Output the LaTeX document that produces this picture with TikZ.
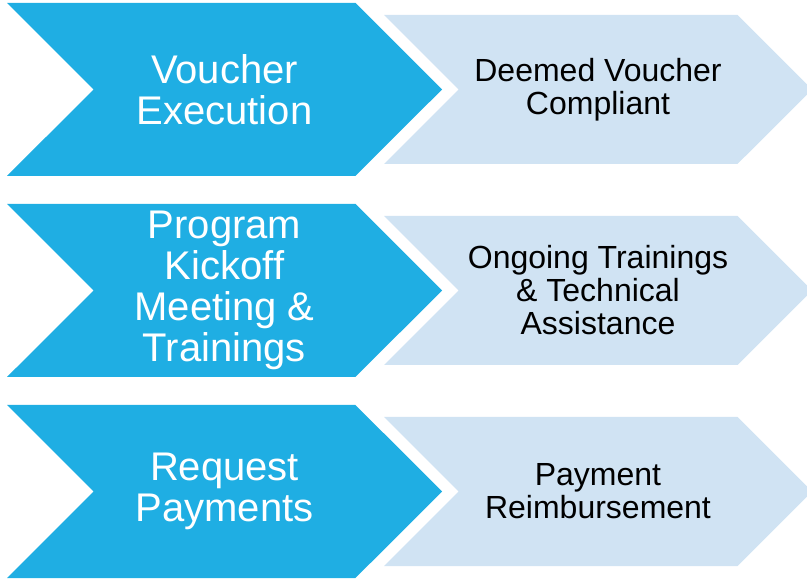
\documentclass[tikz,border=0pt]{standalone}
\usepackage{fontspec}
\setmainfont{Liberation Sans}
\usetikzlibrary{shapes.symbols}
\definecolor{stepblue}{RGB}{31,174,227}
\definecolor{steplight}{RGB}{208,227,243}
\begin{document}
\begin{tikzpicture}[
		x=1pt, y=-1pt,
		darkstep/.style={signal, signal from=west, signal to=east, fill=stepblue, text=white,
			minimum width=435pt, minimum height=173pt, inner sep=0pt, align=center,
			font=\fontsize{40}{41}\selectfont},
		lightstep/.style={signal, signal from=west, signal to=east, fill=steplight, text=black,
			minimum width=428pt, minimum height=149pt, inner sep=0pt, align=center,
			font=\fontsize{32}{33}\selectfont}
	]
		\useasboundingbox (0, 0) rectangle (807, 580);

		% Left steps
		\node[darkstep] (voucher) at (224.5, 89.5) {Voucher\\Execution};
		\node[darkstep] (kickoff) at (224.5, 290.5) {Program\\Kickoff\\Meeting \&\\Trainings};
		\node[darkstep] (request) at (224.5, 491.5) {Request\\Payments};

		% Right steps
		\node[lightstep] (compliant) at (598, 89.5) {Deemed Voucher\\Compliant};
		\node[lightstep] (ongoing) at (598, 290.5) {Ongoing Trainings\\\& Technical\\Assistance};
		\node[lightstep] (reimburse) at (598, 491.5) {Payment\\Reimbursement};
	\end{tikzpicture}
\end{document}
